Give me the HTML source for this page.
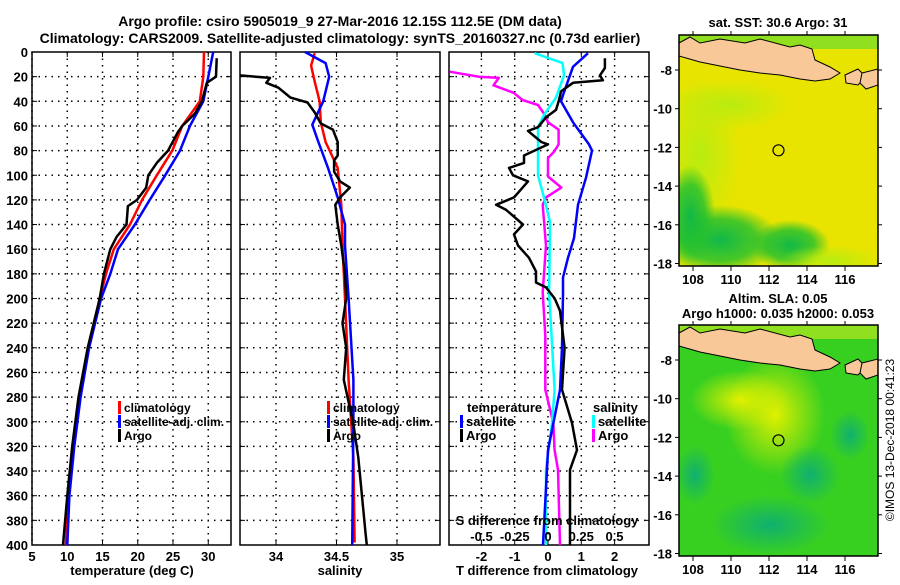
<!DOCTYPE html>
<html><head><meta charset="utf-8"><style>
body{margin:0;background:#fff;width:900px;height:580px;overflow:hidden}
svg{font-family:"Liberation Sans",sans-serif;font-weight:bold}
text{fill:#000}
</style></head><body>
<svg id="s" width="900" height="580">
<defs>
<radialGradient id="gA" cx="0.5" cy="0.5" r="0.5"><stop offset="0" stop-color="#10b848"/><stop offset="0.6" stop-color="#20c030" stop-opacity="0.8"/><stop offset="1" stop-color="#20c030" stop-opacity="0"/></radialGradient>
<radialGradient id="gL" cx="0.5" cy="0.5" r="0.5"><stop offset="0" stop-color="#b8ec10"/><stop offset="1" stop-color="#b8ec10" stop-opacity="0"/></radialGradient>
<radialGradient id="gY" cx="0.5" cy="0.5" r="0.5"><stop offset="0" stop-color="#e0f000"/><stop offset="1" stop-color="#e0f000" stop-opacity="0"/></radialGradient>
<radialGradient id="gT" cx="0.5" cy="0.5" r="0.5"><stop offset="0" stop-color="#10b070"/><stop offset="1" stop-color="#10b070" stop-opacity="0"/></radialGradient>
<radialGradient id="gG" cx="0.5" cy="0.5" r="0.5"><stop offset="0" stop-color="#00c020"/><stop offset="1" stop-color="#00c020" stop-opacity="0"/></radialGradient>
<clipPath id="c1"><rect x="679" y="35" width="199" height="231"/></clipPath>
<clipPath id="c2"><rect x="679" y="325" width="199" height="231"/></clipPath>
</defs>
<text x="340" y="26" font-size="14" text-anchor="middle">Argo profile: csiro 5905019_9 27-Mar-2016 12.15S 112.5E (DM data)</text>
<text x="340" y="43" font-size="14" text-anchor="middle">Climatology: CARS2009. Satellite-adjusted climatology: synTS_20160327.nc (0.73d earlier)</text>
<g id="maps"></g>
<g id="plots"></g>
</svg>
<script>
// ---- data (depth in m) ----
const tClimDepth=[0,20,40,60,80,100,120,140,160,180,200,240,280,320,360,400];
const tClimVal=[29.4,29.3,28.8,26.3,24.9,22.7,20.6,18.9,16.6,15.5,14.6,13.0,11.8,10.8,10.2,9.8];
const tSatDepth=[0,20,40,60,80,100,120,140,160,180,200,240,280,320,360,400];
const tSatVal=[30.7,30.0,29.3,27.4,26.0,23.9,21.7,19.6,17.2,16.1,14.8,13.1,11.9,11.0,10.3,10.0];
const tArgoDepth=[5,20,25,40,50,60,65,80,90,100,110,120,125,140,150,160,180,200,240,280,320,360,400];
const tArgoVal=[31.2,31.1,29.8,29.1,28.1,26.3,25.7,24.3,22.7,21.5,21.2,19.9,18.6,18.4,17.0,16.1,15.2,14.6,12.9,11.6,10.7,10.0,9.4];

const sClimDepth=[1,11,24,40,57,73,94,124,157,200,266,329,398];
const sClimVal=[34.32,34.29,34.32,34.36,34.37,34.41,34.51,34.54,34.55,34.57,34.60,34.64,34.65];
const sSatDepth=[0,9,20,40,59,73,94,118,140,157,200,266,300,400];
const sSatVal=[34.24,34.41,34.44,34.39,34.30,34.35,34.43,34.51,34.57,34.57,34.60,34.64,34.64,34.63];
const sArgoDepth=[19,21,25,29,37,41,49,58,63,73,84,88,97,105,110,118,124,140,157,180,200,220,240,266,302,329,390,400];
const sArgoVal=[33.70,33.95,33.92,34.02,34.12,34.26,34.32,34.37,34.47,34.51,34.51,34.48,34.48,34.53,34.61,34.53,34.49,34.51,34.54,34.57,34.58,34.55,34.58,34.56,34.64,34.68,34.74,34.75];

const dtSatDepth=[1,12,35,40,57,75,80,102,124,151,167,183,197,240,274,323,400];
const dtSatVal=[1.2,0.75,0.45,0.39,0.75,1.23,1.32,1.14,0.9,0.78,0.6,0.45,0.45,0.42,0.36,0.0,-0.15];
const dtArgoDepth=[5,13,19,23,25,32,39,47,53,61,64,73,75,84,90,94,100,105,118,124,128,140,148,157,167,178,187,191,200,210,240,274,301,323,339,400];
const dtArgoVal=[1.71,1.71,1.56,1.65,0.75,0.39,0.33,0.24,-0.06,-0.3,-0.6,-0.2,0,-0.72,-0.72,-1.17,-1.05,-0.6,-1.02,-1.56,-1.26,-0.75,-1.02,-0.9,-0.57,-0.36,-0.36,-0.06,0.2,0.36,0.5,0.42,0.72,0.87,0.66,0.66];
const dsSatDepth=[1,9,19,37,51,61,84,100,118,138,195,274,301,339,400];
const dsSatVal=[-0.1,0.11,0.12,0.06,-0.03,-0.075,-0.075,-0.075,-0.03,0.015,0.008,0.05,0.03,-0.015,-0.015];
const dsArgoDepth=[16,20,21,27,33,39,43,50,57,63,75,81,86,101,110,118,124,157,195,230,274,301,323,339,400];
const dsArgoVal=[-0.74,-0.52,-0.37,-0.41,-0.26,-0.19,-0.075,-0.03,0,0.08,0.08,0.045,0,0,0.1,-0.015,-0.04,-0.015,-0.04,-0.02,-0.02,0.04,0.05,0.075,0.09];

const depthTicks=[0,20,40,60,80,100,120,140,160,180,200,220,240,260,280,300,320,340,360,380,400];
const tTicks=[5,10,15,20,25,30];
const sTicks=[34,34.5,35];
const dtTicks=[-2,-1,0,1,2];
const dsTicks=[-0.5,-0.25,0,0.25,0.5];
const dsTickLabels=["-0.5","-0.25","0","0.25","0.5"];
const lonTicks=[108,110,112,114,116];
const latTicks=[-8,-10,-12,-14,-16,-18];
const floatLon=112.5, floatLat=-12.15;

// ---- scales ----
const Y0=52, Y1=545;
const yD=d=>Y0+(d/400)*(Y1-Y0);
const xT=t=>32+(t-5)*7.05;
const xS=s=>276+(s-34)*121;
const xDT=t=>548+t*33.3;
const xDS=s=>548+s*133;
const NS='http://www.w3.org/2000/svg';
const plots=document.getElementById('plots'), maps=document.getElementById('maps');
function el(tag,attrs,parent,txt){const e=document.createElementNS(NS,tag);for(const k in attrs)e.setAttribute(k,attrs[k]);if(txt!==undefined)e.textContent=txt;(parent||plots).appendChild(e);return e;}

function panel(name,x0,x1,xs,ticks,labels,yLabels){
  const g=el('g',{});
  
  
  depthTicks.forEach(d=>{
    if(d>0&&d<400)el('line',{x1:x0,x2:x1,y1:yD(d),y2:yD(d),stroke:'#000','stroke-width':1.5,'stroke-dasharray':'1.5,5'},g);
    el('line',{x1:x0,x2:x0+5,y1:yD(d),y2:yD(d),stroke:'#000'},g);
    el('line',{x1:x1-5,x2:x1,y1:yD(d),y2:yD(d),stroke:'#000'},g);
    if(yLabels){const t=el('text',{x:x0-4,y:yD(d)+5,'font-size':13,'text-anchor':'end'},g,String(d));}
  });
  ticks.forEach((v,i)=>{
    const x=xs(v);
    el('line',{x1:x,x2:x,y1:Y0,y2:Y1,stroke:'#000','stroke-width':1.5,'stroke-dasharray':'1.5,5'},g);
    el('line',{x1:x,x2:x,y1:Y1-5,y2:Y1,stroke:'#000'},g);
    el('line',{x1:x,x2:x,y1:Y0,y2:Y0+5,stroke:'#000'},g);
    if(labels){const t=el('text',{x:x,y:Y1+16,'font-size':13,'text-anchor':'middle'},g,labels[i]);}
  });
  el('rect',{x:x0,y:Y0,width:x1-x0,height:Y1-Y0,fill:'none',stroke:'#000','stroke-width':1.5},g);
  return g;
}
function line(name,ds,vs,xs,color,w){
  const pts=ds.map((d,i)=>xs(vs[i]).toFixed(1)+','+yD(d).toFixed(1)).join(' ');
  const p=el('polyline',{points:pts,fill:'none',stroke:color,'stroke-width':w||2.5,'stroke-linejoin':'round'});
  
  
}
function legend(x,y,items,fs){
  items.forEach((it,i)=>{
    const yy=y+i*14;
    if(it[1])el('rect',{x:x,y:yy-11,width:3,height:13,fill:it[1]});
    const t=el('text',{x:x+(it[1]?6:0),y:yy,'font-size':fs||13},plots,it[0]);
    
    
  });
}
function label(x,y,txt,name,anchor,size){const t=el('text',{x:x,y:y,'font-size':size||13,'text-anchor':anchor||'middle'},plots,txt);return t;}

// panel 1
panel('temperature',32,231,xT,tTicks,tTicks.map(String),true);
line('temp-climatology-line',tClimDepth,tClimVal,xT,'#f00');
line('temp-satellite-line',tSatDepth,tSatVal,xT,'#00f');
line('temp-argo-line',tArgoDepth,tArgoVal,xT,'#000');
legend(118,412,[['climatology','#f00'],['satellite-adj. clim.','#00f'],['Argo','#000']],12);
label(132,575,'temperature (deg C)','temperature-axis-title');
// panel 2
panel('salinity',240,440,xS,sTicks,['34','34.5','35'],false);
line('sal-climatology-line',sClimDepth,sClimVal,xS,'#f00');
line('sal-satellite-line',sSatDepth,sSatVal,xS,'#00f');
line('sal-argo-line',sArgoDepth,sArgoVal,xS,'#000');
legend(327,412,[['climatology','#f00'],['satellite-adj. clim.','#00f'],['Argo','#000']],12);
label(340,575,'salinity','salinity-axis-title');
// panel 3
panel('difference',449,649,xDT,dtTicks,dtTicks.map(String),false);
line('ds-argo-line',dsArgoDepth,dsArgoVal,xDS,'#f0f');
line('ds-satellite-line',dsSatDepth,dsSatVal,xDS,'#0ff');
line('dt-satellite-line',dtSatDepth,dtSatVal,xDT,'#00f');
line('dt-argo-line',dtArgoDepth,dtArgoVal,xDT,'#000');
legend(467,412,[['temperature',null]]);
legend(460,426,[['satellite','#00f'],['Argo','#000']]);
legend(593,412,[['salinity',null]]);
legend(592,426,[['satellite','#0ff'],['Argo','#f0f']]);
label(547,525,'S difference from climatology','s-diff-axis-title');
dsTicks.forEach((v,i)=>label(xDS(v),541,dsTickLabels[i],'s-diff-tick-label'));
label(547,575,'T difference from climatology','t-diff-axis-title');

// ---- maps ----
function map(name,top,lat8,clip,blobs,base){
  const g=el('g',{},maps);
  
  
  const xL=lon=>693+(lon-108)*19, yL=lat=>lat8+(-8-lat)*19.35;
  const c=el('g',{'clip-path':'url(#'+clip+')'},g);
  el('rect',{x:679,y:top,width:199,height:231,fill:base},c);
  blobs.forEach(b=>el('ellipse',{cx:b[0],cy:b[1]+top,rx:b[2],ry:b[3],fill:'url(#'+b[4]+')'},c));
  el('rect',{x:679,y:top,width:199,height:14,fill:blobs.topColor||'#90e020'},c);
  const land='679,'+(top+8)+' 690,'+(top+2)+' 700,'+(top+8)+' 720,'+(top+4)+' 745,'+(top+8)+' 760,'+(top+4)+' 790,'+(top+12)+' 800,'+(top+10)+' 812,'+(top+14)+' 815,'+(top+25)+' 830,'+(top+32)+' 840,'+(top+38)+' 830,'+(top+44)+' 815,'+(top+46)+' 800,'+(top+44)+' 780,'+(top+40)+' 760,'+(top+38)+' 740,'+(top+35)+' 720,'+(top+31)+' 700,'+(top+27)+' 679,'+(top+21);
  const lp=el('polygon',{points:land,fill:'#f8c898',stroke:'#000','stroke-width':1},c);
  
  
  el('polygon',{points:'845,'+(top+40)+' 858,'+(top+34)+' 866,'+(top+42)+' 858,'+(top+50)+' 846,'+(top+48),fill:'#f8c898',stroke:'#000'},c);
  el('polygon',{points:'862,'+(top+38)+' 878,'+(top+34)+' 878,'+(top+50)+' 866,'+(top+54)+' 860,'+(top+48),fill:'#f8c898',stroke:'#000'},c);
  el('rect',{x:679,y:top,width:199,height:231,fill:'none',stroke:'#000','stroke-width':1.5},g);
  lonTicks.forEach(l=>{el('line',{x1:xL(l),x2:xL(l),y1:top+231,y2:top+236,stroke:'#000'},g);el('line',{x1:xL(l),x2:xL(l),y1:top-4,y2:top,stroke:'#000'},g);const t=el('text',{x:xL(l),y:top+249,'font-size':13,'text-anchor':'middle'},g,String(l));});
  latTicks.forEach(l=>{el('line',{x1:675,x2:679,y1:yL(l),y2:yL(l),stroke:'#000'},g);el('line',{x1:878,x2:882,y1:yL(l),y2:yL(l),stroke:'#000'},g);const t=el('text',{x:672,y:yL(l)+5,'font-size':13,'text-anchor':'end'},g,String(l));});
  const ci=el('circle',{cx:xL(floatLon),cy:yL(floatLat),r:5.5,fill:'none',stroke:'#000','stroke-width':1.2},g);
  
  
}
map('sst-map',35,70,'c1',[[700,120,40,80,'gL'],[730,70,60,25,'gL'],[720,205,60,35,'gA'],[690,180,25,50,'gA'],[790,210,40,25,'gA'],[830,225,50,15,'gL']],'#e8e400');
map('sla-map',325,360,'c2',[[775,90,50,60,'gY'],[740,75,50,30,'gY'],[810,150,30,30,'gT'],[695,150,20,30,'gT'],[850,110,20,25,'gT'],[770,200,60,30,'gT']],'#38d020');
label(778,27,'sat. SST: 30.6 Argo: 31','sst-map-title');
label(778,303,'Altim. SLA: 0.05','sla-map-title');
label(778,318,'Argo h1000: 0.035 h2000: 0.053','sla-map-subtitle');
const cr=label(894,440,'©IMOS 13-Dec-2018 00:41:23','timestamp-label','middle',12);
cr.setAttribute('transform','rotate(-90 894 440)');
cr.setAttribute('font-weight','normal');
</script>
</body></html>
